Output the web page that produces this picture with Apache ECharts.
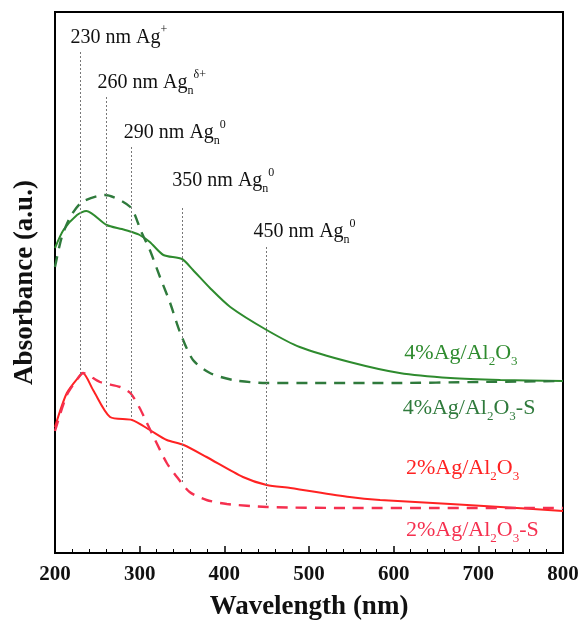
<!DOCTYPE html>
<html><head><meta charset="utf-8">
<script src="https://cdn.jsdelivr.net/npm/echarts@6/dist/echarts.min.js"></script>
<style>html,body{margin:0;padding:0;background:#fff}#c{width:582px;height:624px}</style>
</head><body><div id="c"></div>
<script>
// ---- data (absorbance in arbitrary units) ----
const xTicks = [200, 300, 400, 500, 600, 700, 800];
const peakNm = [230, 260, 290, 350, 450];
const peakIon = ['+', 'δ+', '0', '0', '0'];

const g4X = [200, 210, 226, 237, 261, 279, 291, 300, 312, 328, 350, 363, 383, 407, 450, 489, 548, 607, 667, 726, 800];
const g4Y = [305, 323, 338, 342, 328, 324, 321, 318, 311, 298, 294, 283, 265, 246, 223, 206, 191, 180, 175, 173, 172];

const g4sX = [200, 208, 218, 232, 259, 289, 302, 312, 324, 336, 348, 363, 383, 410, 450, 500, 600, 700, 800];
const g4sY = [286, 316, 336, 351, 358, 346, 321, 303, 276, 250, 220, 193, 180, 173, 170, 170, 170, 171, 172];

const r2X = [200, 214, 230, 233, 245, 265, 291, 312, 332, 352, 379, 422, 450, 478, 548, 584, 667, 726, 800];
const r2Y = [126, 160, 178, 180, 163, 136, 133, 123, 113, 108, 96, 76, 68, 65, 56, 53, 49, 46, 42];

const r2sX = [200, 214, 230, 233, 253, 277, 289, 300, 308, 320, 332, 344, 359, 379, 403, 450, 548, 650, 800];
const r2sY = [122, 158, 178, 180, 171, 166, 160, 145, 131, 110, 90, 76, 61, 53, 49, 46, 45, 45, 45];

const zip = (xs, ys) => xs.map((x, i) => [x, ys[i]]);

const FONT = '"Liberation Serif", "Times New Roman", serif';
const GREEN = '#2e8b2e', GREEN_D = '#2f7a3c', RED = '#ff2222', RED_D = '#f5304f';

function rich(color, size) {
  return {
    n: { fontSize: size, fontFamily: FONT, color: color, lineHeight: size + 8, verticalAlign: 'middle' },
    sub: { fontSize: Math.round(size * 0.6), fontFamily: FONT, color: color, lineHeight: Math.round(size * 0.7), verticalAlign: 'bottom' },
    sup: { fontSize: Math.round(size * 0.6), fontFamily: FONT, color: color, lineHeight: Math.round(size * 0.7), verticalAlign: 'top' }
  };
}

function peakText(i) {
  const sub = i === 0 ? '' : '{sub|n}';
  return '{n|' + peakNm[i] + ' nm Ag}' + sub + '{sup|' + peakIon[i] + '}';
}

// anchors for annotation text (left edge, vertical centre) in data units
const peakLabelAt = [[217.7, 515], [249.6, 470], [280.7, 420], [338, 372], [434, 321]];
const peakLineSpan = [[501, 178], [456, 146], [406, 136], [345, 70], [306, 46]];

const sampleLabels = [
  { t: '{n|4%Ag/Al}{sub|2}{n|O}{sub|3}', c: GREEN, at: [612, 200] },
  { t: '{n|4%Ag/Al}{sub|2}{n|O}{sub|3}{n|-S}', c: GREEN_D, at: [610, 145] },
  { t: '{n|2%Ag/Al}{sub|2}{n|O}{sub|3}', c: RED, at: [614, 85] },
  { t: '{n|2%Ag/Al}{sub|2}{n|O}{sub|3}{n|-S}', c: RED_D, at: [614, 23] }
];

const chart = echarts.init(document.getElementById('c'), null, { renderer: 'canvas' });

const annotSeries = {
  type: 'line', data: [], silent: true, z: 1,
  markLine: {
    silent: true, symbol: 'none', animation: false,
    label: { show: false },
    lineStyle: { type: [2, 2], color: '#777', width: 1 },
    data: peakNm.map((nm, i) => [{ coord: [nm, peakLineSpan[i][0]] }, { coord: [nm, peakLineSpan[i][1]] }])
  },
  markPoint: {
    silent: true, animation: false, symbol: 'circle', symbolSize: 1,
    itemStyle: { color: 'rgba(0,0,0,0)' },
    data: peakNm.map((nm, i) => ({
      coord: peakLabelAt[i],
      label: { show: true, position: 'right', distance: 0, formatter: peakText(i), rich: rich('#111', 20) }
    })).concat(sampleLabels.map(s => ({
      coord: s.at,
      label: { show: true, position: 'right', distance: 0, formatter: s.t, rich: rich(s.c, 22) }
    })))
  }
};

function lineSeries(name, xs, ys, color, dashed) {
  return {
    name: name, type: 'line', data: zip(xs, ys), symbol: 'none', smooth: 0.25,
    lineStyle: { color: color, width: dashed ? 2.4 : 2, type: dashed ? [11, 8] : 'solid' },
    z: 3, animation: false
  };
}

chart.setOption({
  backgroundColor: '#fff',
  animation: false,
  grid: { left: 55, right: 19, top: 12, bottom: 71, outerBoundsMode: 'none', containLabel: false,
          show: true, borderColor: '#000', borderWidth: 2, backgroundColor: '#fff' },
  xAxis: {
    type: 'value', min: 200, max: 800, interval: 100,
    name: 'Wavelength (nm)', nameLocation: 'middle', nameGap: 41,
    nameTextStyle: { fontFamily: FONT, fontWeight: 'bold', fontSize: 27, color: '#111' },
    axisLine: { show: true, lineStyle: { color: '#000', width: 2 } },
    axisTick: { show: true, inside: true, length: 7, lineStyle: { color: '#000', width: 1.5 } },
    minorTick: { show: true, splitNumber: 5, length: 4, lineStyle: { color: '#000', width: 1 } },
    splitLine: { show: false },
    axisLabel: {
      fontFamily: FONT, fontWeight: 'bold', fontSize: 21, color: '#111', margin: 11,
      formatter: v => (xTicks.indexOf(v) >= 0 ? String(v) : '')
    }
  },
  yAxis: {
    type: 'value', min: 0, max: 541,
    name: 'Absorbance (a.u.)', nameLocation: 'middle', nameGap: 16, nameRotate: 90,
    nameTextStyle: { fontFamily: FONT, fontWeight: 'bold', fontSize: 27, color: '#111' },
    axisLine: { show: true, lineStyle: { color: '#000', width: 2 } },
    axisTick: { show: false }, axisLabel: { show: false }, splitLine: { show: false }
  },
  series: [
    annotSeries,
    lineSeries('4%Ag/Al2O3', g4X, g4Y, GREEN, false),
    lineSeries('4%Ag/Al2O3-S', g4sX, g4sY, GREEN_D, true),
    lineSeries('2%Ag/Al2O3', r2X, r2Y, RED, false),
    lineSeries('2%Ag/Al2O3-S', r2sX, r2sY, RED_D, true)
  ]
});
</script>
</body></html>
